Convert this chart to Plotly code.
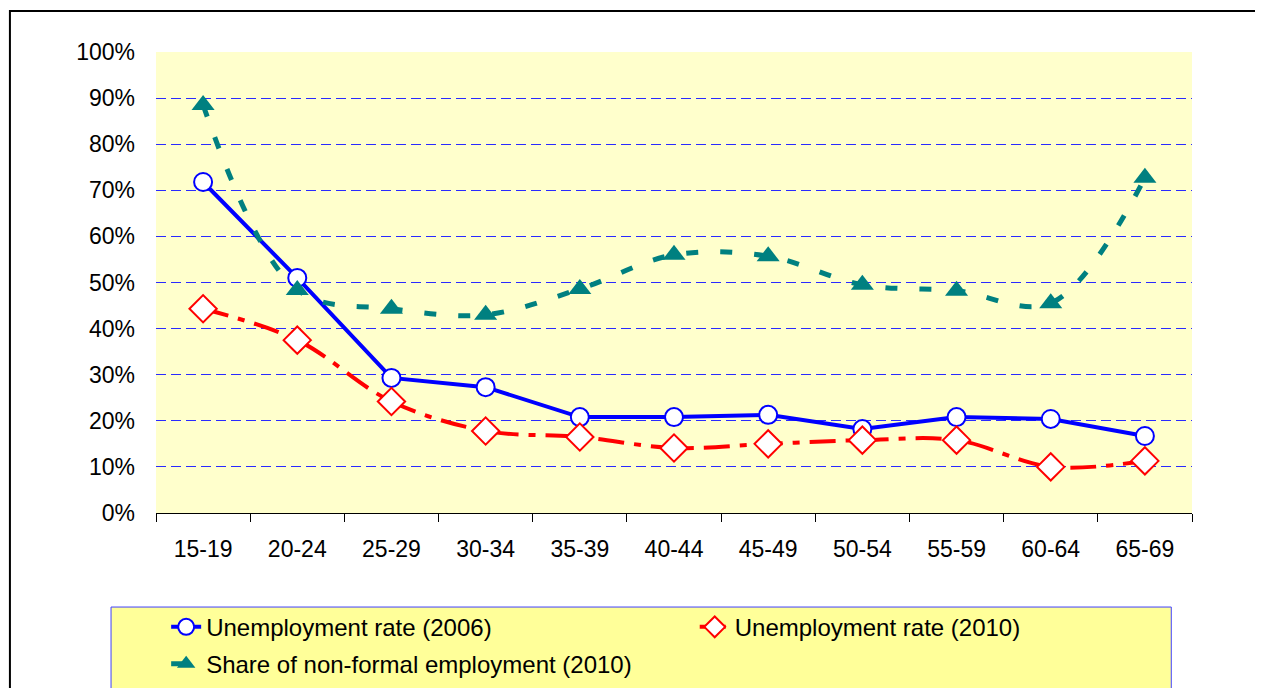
import plotly.graph_objects as go

age_groups = ["15-19", "20-24", "25-29", "30-34", "35-39", "40-44",
              "45-49", "50-54", "55-59", "60-64", "65-69"]
unemp_2006 = [0.718, 0.510, 0.293, 0.273, 0.208, 0.208, 0.213, 0.182, 0.208, 0.204, 0.167]
unemp_2010 = [0.443, 0.375, 0.242, 0.178, 0.165, 0.141, 0.150, 0.158, 0.158, 0.100, 0.113]
nonformal_2010 = [0.885, 0.484, 0.443, 0.430, 0.486, 0.560, 0.557, 0.495, 0.482, 0.455, 0.727]
y_ticks = [i / 10 for i in range(11)]
y_labels = [f"{i * 10}%" for i in range(11)]

fig = go.Figure()
fig.add_trace(go.Scatter(
    x=age_groups, y=unemp_2006, name="Unemployment rate (2006)",
    mode="lines+markers", line=dict(color="#0000FF", width=4),
    marker=dict(symbol="circle", size=18, color="white",
                line=dict(color="#0000FF", width=2)),
    legend="legend"))
fig.add_trace(go.Scatter(
    x=age_groups, y=unemp_2010, name="Unemployment rate (2010)",
    mode="lines+markers",
    line=dict(color="#FF0000", width=4, dash="26px,10px,7px,10px", shape="spline"),
    marker=dict(symbol="diamond", size=21, color="white",
                line=dict(color="#FF0000", width=2)),
    legend="legend2"))
fig.add_trace(go.Scatter(
    x=age_groups, y=nonformal_2010, name="Share of non-formal employment (2010)",
    mode="lines+markers",
    line=dict(color="#008080", width=5, dash="12px,22px", shape="spline"),
    marker=dict(symbol="triangle-up", size=20, color="#008080"),
    legend="legend3"))

legend_style = dict(orientation="h", xanchor="left", yanchor="top",
                    bgcolor="rgba(0,0,0,0)", borderwidth=0,
                    font=dict(size=24))

fig.update_layout(
    width=1255, height=680,
    margin=dict(l=148, r=71, t=44, b=175, autoexpand=False),
    paper_bgcolor="white", plot_bgcolor="#FFFFCC",
    font=dict(family="Liberation Sans, Arial, sans-serif", size=23, color="black"),
    showlegend=True,
    legend=dict(x=0.0098, y=-0.199, **legend_style),
    legend2=dict(x=0.520, y=-0.199, **legend_style),
    legend3=dict(x=0.0098, y=-0.279, **legend_style),
    shapes=[
        # outer chart frame
        dict(type="rect", xref="paper", yref="paper",
             x0=-0.141, x1=1.2, y0=-0.5, y1=1.089,
             line=dict(color="black", width=2), fillcolor="rgba(0,0,0,0)", layer="below"),
        # legend box
        dict(type="rect", xref="paper", yref="paper",
             x0=-0.0434, x1=0.980, y0=-0.45, y1=-0.204,
             line=dict(color="#4040FF", width=1), fillcolor="#FFFF99", layer="below"),
    ],
)
fig.update_xaxes(
    type="category", showgrid=False, showline=True, linecolor="black", linewidth=1,
    ticks="outside", tickson="boundaries", ticklen=8, tickcolor="black",
    ticklabelstandoff=15, range=[-0.5, 10.5])
fig.update_yaxes(
    range=[0, 1.0], tickvals=y_ticks, ticktext=y_labels,
    showgrid=True, gridcolor="#2a2aff", griddash="10px,5px", gridwidth=1,
    zeroline=False, showline=False, ticks="", ticklabelstandoff=20)

fig.write_html("out.html")
